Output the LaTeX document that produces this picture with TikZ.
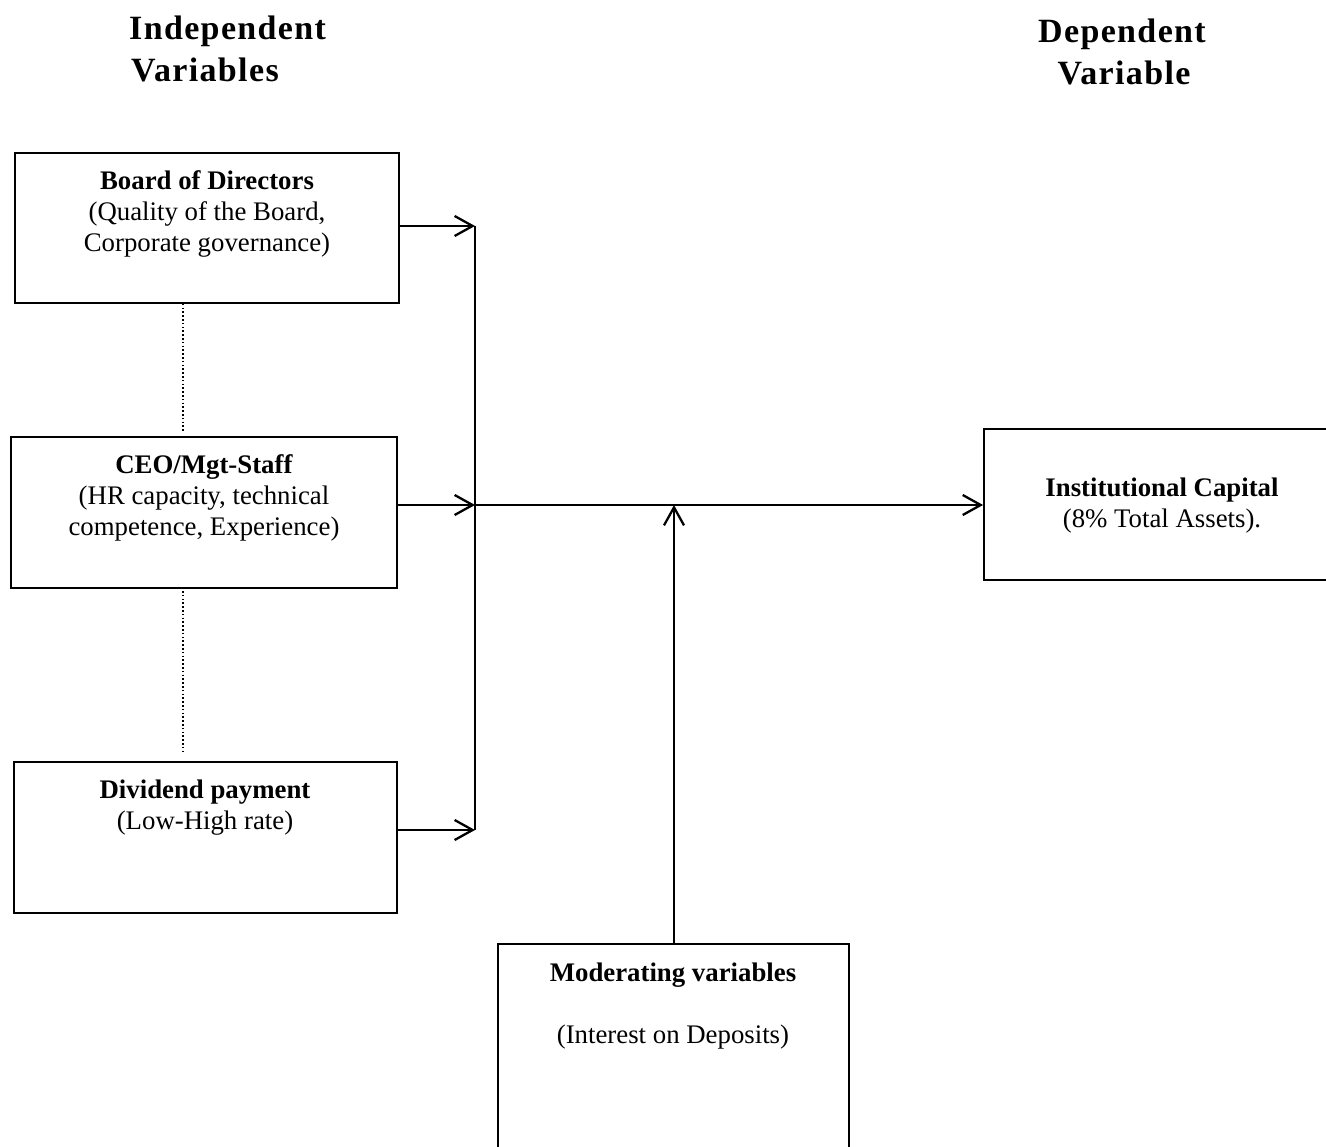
\documentclass[tikz,border=0pt]{standalone}
\usepackage{fontspec}
\setmainfont{Liberation Serif}
\newfontfamily\titlefont[LetterSpace=4]{Liberation Serif}
\usetikzlibrary{arrows.meta}
\begin{document}
\begin{tikzpicture}[x=1pt,y=-1pt,
  varbox/.style={draw,line width=1.8pt,minimum width=#1,inner sep=0pt},
  boxtext/.style={align=center,font=\fontsize{26.8}{31}\selectfont,inner sep=0pt},
  titletext/.style={font=\titlefont\bfseries\fontsize{34}{42}\selectfont,inner sep=0pt},
  conn/.style={line width=2.3pt},
  arr/.style={conn,-{Straight Barb[length=18pt,width=20pt,line width=2.3pt]}},
  dotline/.style={line width=1.8pt,dash pattern=on 1.6pt off 2.2pt}]
\clip (0,0) rectangle (1326,1147);
\fill[white] (0,0) rectangle (1326,1147);
% titles
\node[titletext,anchor=base west] (t1) at (129,40) {Independent};
\node[titletext,anchor=base west] (t2) at (131,82) {Variables};
\node[titletext,anchor=base] (t3) at (1122,43) {Dependent};
\node[titletext,anchor=base] (t4) at (1124,85) {Variable};
% boxes
\node[varbox=384pt,minimum height=150pt] (board) at (207,228) {};
\node[varbox=386pt,minimum height=151pt] (ceo) at (204,512.5) {};
\node[varbox=383pt,minimum height=151pt] (div) at (205.5,837.5) {};
\node[varbox=356pt,minimum height=151pt] (inst) at (1162,504.5) {};
\node[varbox=351pt,minimum height=216pt] (mod) at (673.5,1052) {};
% texts
\node[boxtext] (boardt) at (207,214) {\textbf{Board of Directors}\\(Quality of the Board,\\Corporate governance)};
\node[boxtext] (ceot) at (204,498) {\textbf{CEO/Mgt-Staff}\\(HR capacity, technical\\competence, Experience)};
\node[boxtext] (divt) at (205,807.5) {\textbf{Dividend payment}\\(Low-High rate)};
\node[boxtext] (instt) at (1162,505.5) {\textbf{Institutional Capital}\\(8\% Total Assets).};
\node[boxtext] (modt) at (673,1006) {\textbf{Moderating variables}\\[31pt](Interest on Deposits)};
% connector coordinates
\coordinate (bt) at (475,226);
\coordinate (bm) at (475,505);
\coordinate (bb) at (475,830);
\coordinate (mj) at (674,505);
\coordinate (d1) at (183,0);
% connectors
\draw[conn] (bt) -- (bb);
\draw[arr] (board.east |- bt) -- (bt);
\draw[arr] (ceo.east |- bm) -- (bm);
\draw[arr] (div.east |- bb) -- (bb);
\draw[arr] (bm) -- (inst.west |- bm);
\draw[arr] (mod.north -| mj) -- (mj);
% dotted links
\draw[dotline,shorten >=4pt] (board.south -| d1) -- (ceo.north -| d1);
\draw[dotline,shorten <=2pt,shorten >=10pt] (ceo.south -| d1) -- (div.north -| d1);
\end{tikzpicture}
\end{document}
